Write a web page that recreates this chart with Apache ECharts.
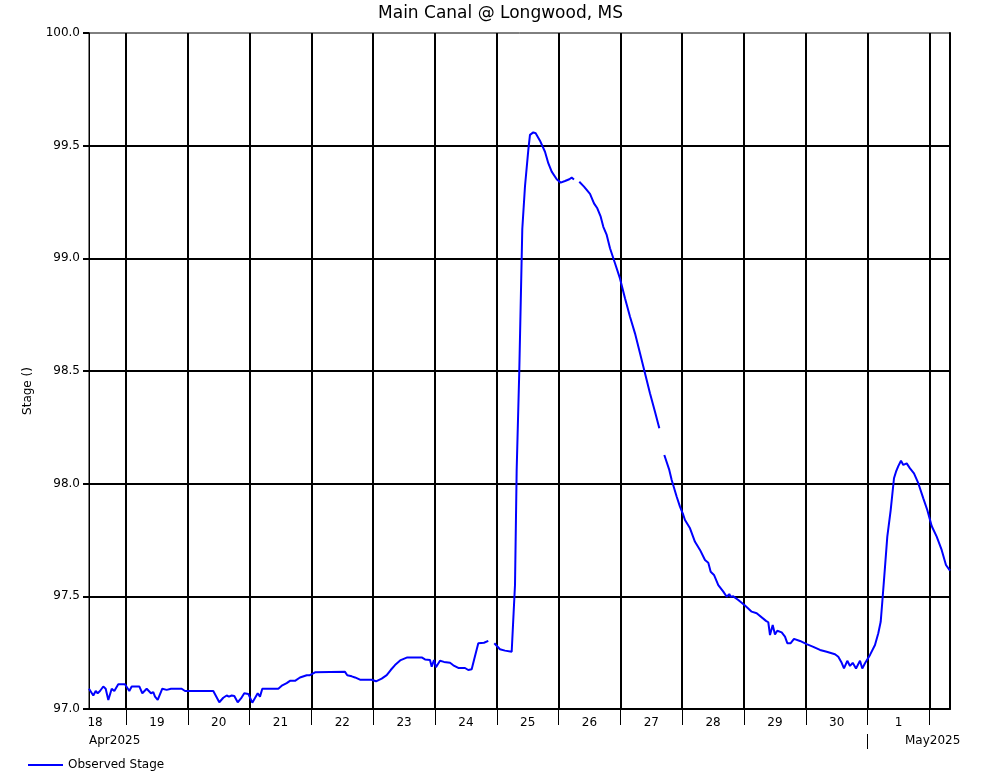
<!DOCTYPE html>
<html>
<head>
<meta charset="utf-8">
<script src="https://cdn.jsdelivr.net/npm/echarts@6/dist/echarts.min.js"></script>
<style>html,body{margin:0;padding:0;background:#fff;}#c{width:1001px;height:780px;}</style>
</head>
<body>
<div id="c"></div>
<script>
// ---- data ----
const titleText = 'Main Canal @ Longwood, MS';
const seriesName = 'Observed Stage';
const yAxisName = 'Stage ()';
const axisStart = '2025-04-18 09:38';
const axisEnd = '2025-05-02 08:00';
const yTicks = [97.0, 97.5, 98.0, 98.5, 99.0, 99.5, 100.0];
const midnights = ['2025-04-19','2025-04-20','2025-04-21','2025-04-22','2025-04-23','2025-04-24','2025-04-25','2025-04-26','2025-04-27','2025-04-28','2025-04-29','2025-04-30','2025-05-01','2025-05-02'];
const dayLabelTimes = ['2025-04-18 12:00','2025-04-19 12:00','2025-04-20 12:00','2025-04-21 12:00','2025-04-22 12:00','2025-04-23 12:00','2025-04-24 12:00','2025-04-25 12:00','2025-04-26 12:00','2025-04-27 12:00','2025-04-28 12:00','2025-04-29 12:00','2025-04-30 12:00','2025-05-01 12:00'];
const dayLabels = ['18','19','20','21','22','23','24','25','26','27','28','29','30','1'];
const monthTicks = ['2025-05-01'];
const monthLabelTimes = ['2025-04-18 09:38','2025-05-01 14:30'];
const monthLabels = ['Apr2025','May2025'];

const times = [
'2025-04-18 09:38','2025-04-18 11:18','2025-04-18 12:14','2025-04-18 13:00','2025-04-18 13:54','2025-04-18 15:11','2025-04-18 16:07','2025-04-18 17:08','2025-04-18 18:27','2025-04-18 19:28','2025-04-18 21:00','2025-04-18 23:36',
'2025-04-19 01:17','2025-04-19 02:13','2025-04-19 05:10','2025-04-19 06:20','2025-04-19 08:02','2025-04-19 09:42','2025-04-19 10:36','2025-04-19 11:16','2025-04-19 12:19','2025-04-19 14:06','2025-04-19 15:48','2025-04-19 17:29','2025-04-19 21:38','2025-04-19 22:55',
'2025-04-20 09:54','2025-04-20 12:14','2025-04-20 13:47','2025-04-20 15:06','2025-04-20 16:00','2025-04-20 17:03','2025-04-20 18:04','2025-04-20 19:23','2025-04-20 20:40','2025-04-20 21:56','2025-04-20 23:30',
'2025-04-21 01:03','2025-04-21 03:09','2025-04-21 04:02','2025-04-21 04:56','2025-04-21 11:09','2025-04-21 12:42','2025-04-21 14:24','2025-04-21 15:41','2025-04-21 17:38','2025-04-21 19:34','2025-04-21 22:11','2025-04-21 23:27',
'2025-04-22 01:24','2025-04-22 13:03','2025-04-22 13:56','2025-04-22 15:39','2025-04-22 16:56','2025-04-22 18:52','2025-04-22 23:25',
'2025-04-23 01:05','2025-04-23 03:18','2025-04-23 05:15','2025-04-23 06:48','2025-04-23 08:28','2025-04-23 10:41','2025-04-23 13:15','2025-04-23 18:50','2025-04-23 20:07','2025-04-23 22:04','2025-04-23 22:43','2025-04-23 23:37',
'2025-04-24 00:23','2025-04-24 01:56','2025-04-24 03:30','2025-04-24 05:50','2025-04-24 07:07','2025-04-24 09:03','2025-04-24 11:39','2025-04-24 12:56','2025-04-24 14:15','2025-04-24 15:09','2025-04-24 16:49','2025-04-24 19:02','2025-04-24 20:42','2025-04-24 21:30','2025-04-24 23:02',
'2025-04-25 01:14','2025-04-25 03:11','2025-04-25 05:47','2025-04-25 06:17','2025-04-25 07:04','2025-04-25 07:43','2025-04-25 08:44','2025-04-25 09:54','2025-04-25 10:57','2025-04-25 12:14','2025-04-25 12:53','2025-04-25 14:10','2025-04-25 15:06','2025-04-25 16:46','2025-04-25 18:43','2025-04-25 20:00','2025-04-25 21:19','2025-04-25 23:16',
'2025-04-26 00:49','2025-04-26 02:29','2025-04-26 04:09','2025-04-26 05:05','2025-04-26 05:59','2025-04-26 06:40','2025-04-26 08:02','2025-04-26 09:52','2025-04-26 12:12','2025-04-26 13:45','2025-04-26 15:02','2025-04-26 16:21','2025-04-26 17:22','2025-04-26 18:41','2025-04-26 19:58','2025-04-26 21:54','2025-04-26 23:50',
'2025-04-27 01:47','2025-04-27 03:44','2025-04-27 05:40','2025-04-27 07:37','2025-04-27 09:33','2025-04-27 11:29','2025-04-27 13:26','2025-04-27 15:07','2025-04-27 16:00','2025-04-27 17:03','2025-04-27 18:59','2025-04-27 19:55','2025-04-27 21:52','2025-04-27 23:08',
'2025-04-28 00:26','2025-04-28 01:05','2025-04-28 03:02','2025-04-28 04:58','2025-04-28 06:55','2025-04-28 08:51','2025-04-28 10:08','2025-04-28 11:04','2025-04-28 12:21','2025-04-28 14:01','2025-04-28 15:58','2025-04-28 17:17','2025-04-28 18:17','2025-04-28 18:50','2025-04-28 19:51','2025-04-28 21:47',
'2025-04-29 00:23','2025-04-29 02:59','2025-04-29 04:56','2025-04-29 08:32','2025-04-29 09:26','2025-04-29 10:06','2025-04-29 11:09','2025-04-29 12:02','2025-04-29 12:56','2025-04-29 14:38','2025-04-29 15:55','2025-04-29 16:49','2025-04-29 18:08','2025-04-29 19:25','2025-04-29 21:44',
'2025-04-30 00:21','2025-04-30 02:55','2025-04-30 05:31','2025-04-30 08:07','2025-04-30 11:20','2025-04-30 12:37','2025-04-30 13:56','2025-04-30 14:50','2025-04-30 16:07','2025-04-30 17:10','2025-04-30 18:13','2025-04-30 19:30','2025-04-30 20:00','2025-04-30 21:03','2025-04-30 21:56','2025-04-30 22:59',
'2025-05-01 00:56','2025-05-01 02:52','2025-05-01 04:09','2025-05-01 05:05','2025-05-01 05:52','2025-05-01 06:46','2025-05-01 07:39','2025-05-01 08:58','2025-05-01 10:15','2025-05-01 11:02','2025-05-01 11:55','2025-05-01 12:58','2025-05-01 13:52','2025-05-01 15:11','2025-05-01 16:28','2025-05-01 18:01','2025-05-01 19:41','2025-05-01 21:38','2025-05-01 23:11',
'2025-05-02 00:53','2025-05-02 02:50','2025-05-02 04:46','2025-05-02 06:26','2025-05-02 08:00'
];
const stage = [
97.09,97.06,97.08,97.07,97.08,97.10,97.09,97.04,97.09,97.08,97.11,97.11,
97.08,97.10,97.10,97.07,97.09,97.07,97.075,97.055,97.04,97.09,97.085,97.09,97.09,97.08,
97.08,97.03,97.05,97.06,97.055,97.06,97.058,97.03,97.047,97.07,97.067,
97.028,97.07,97.055,97.09,97.09,97.105,97.115,97.125,97.125,97.14,97.15,97.15,
97.163,97.165,97.15,97.145,97.14,97.13,97.13,
97.123,97.135,97.15,97.173,97.195,97.217,97.229,97.229,97.22,97.217,97.188,97.217,
97.185,97.214,97.209,97.205,97.194,97.182,97.182,97.173,97.176,97.217,97.292,97.294,97.302,null,97.292,
97.265,97.259,97.254,97.25,97.55,98.06,98.50,99.13,99.32,99.48,99.548,99.559,99.555,99.522,99.473,99.422,99.385,99.351,
99.336,99.343,99.351,99.358,99.35,null,99.340,99.318,99.286,99.244,99.222,99.185,99.14,99.104,99.045,98.978,98.911,
98.823,98.741,98.667,98.579,98.49,98.401,98.319,98.246,null,98.127,98.061,98.016,97.942,97.898,
97.861,97.839,97.802,97.742,97.706,97.661,97.649,97.609,97.595,97.55,97.521,97.498,97.51,97.498,97.50,97.484,
97.459,97.432,97.425,97.391,97.385,97.328,97.373,97.331,97.347,97.34,97.321,97.292,97.292,97.311,97.302,
97.288,97.276,97.262,97.254,97.243,97.232,97.205,97.18,97.214,97.191,97.205,97.18,97.176,97.214,97.18,97.203,
97.24,97.284,97.336,97.387,97.498,97.632,97.765,97.883,98.024,98.053,98.078,98.102,98.083,98.090,98.068,98.046,98.002,97.935,97.883,
97.812,97.765,97.706,97.639,97.614
];

// ---- helpers ----
function toMs(s) {
  const parts = s.split(' ');
  const d = parts[0].split('-').map(Number);
  const t = (parts[1] || '00:00').split(':').map(Number);
  return Date.UTC(d[0], d[1] - 1, d[2], t[0], t[1]);
}
const xMin = toMs(axisStart), xMax = toMs(axisEnd);
const dayLabelMs = dayLabelTimes.map(toMs);
const monthLabelMs = monthLabelTimes.map(toMs);
const seriesData = times.map((t, i) => [toMs(t), stage[i]]);
const FONT = 'DejaVu Sans';

const chart = echarts.init(document.getElementById('c'), null, {renderer: 'canvas'});
chart.setOption({
  animation: false,
  backgroundColor: '#fff',
  textStyle: {fontFamily: FONT, color: '#000'},
  title: {
    text: titleText, left: 'center', top: 0, padding: [5, 5, 5, 5],
    textStyle: {fontFamily: FONT, fontSize: 17, fontWeight: 'normal', color: '#000'}
  },
  legend: {
    left: 23, top: 754, icon: 'rect', itemWidth: 35, itemHeight: 2,
    textStyle: {fontFamily: FONT, fontSize: 12, color: '#000'},
    data: [seriesName]
  },
  grid: {left: 89, right: 51, top: 33, bottom: 71, show: true, borderColor: '#000', borderWidth: 1, containLabel: false},
  xAxis: [{
    type: 'value', min: xMin, max: xMax, position: 'bottom',
    axisLine: {show: true, onZero: false, lineStyle: {color: '#000', width: 2}},
    axisTick: {show: true, customValues: midnights.map(toMs), length: 16, lineStyle: {color: '#000', width: 1}},
    axisLabel: {
      customValues: dayLabelMs, margin: 8, fontSize: 12, color: '#000', fontFamily: FONT,
      formatter: function (v) { const i = dayLabelMs.indexOf(v); return i >= 0 ? dayLabels[i] : ''; }
    },
    splitLine: {show: true, lineStyle: {color: '#000', width: 2}}
  }, {
    type: 'value', min: xMin, max: xMax, position: 'bottom', offset: 25,
    axisLine: {show: false, onZero: false},
    axisTick: {show: true, customValues: monthTicks.map(toMs), length: 15, lineStyle: {color: '#000', width: 1}},
    axisLabel: {
      customValues: monthLabelMs, margin: 1, fontSize: 12, color: '#000', fontFamily: FONT, align: 'left',
      showMinLabel: true, showMaxLabel: true,
      formatter: function (v) { const i = monthLabelMs.indexOf(v); return i >= 0 ? monthLabels[i] : ''; }
    },
    splitLine: {show: false}
  }],
  yAxis: [{
    type: 'value', min: yTicks[0], max: yTicks[yTicks.length - 1], interval: 0.5,
    name: yAxisName, nameLocation: 'middle', nameGap: 55,
    nameTextStyle: {fontFamily: FONT, fontSize: 12, color: '#000', padding: [0, 40, 0, 0]},
    axisLine: {show: true, onZero: false, lineStyle: {color: '#000', width: 1}},
    axisTick: {show: true, length: 6, lineStyle: {color: '#000', width: 2}},
    axisLabel: {margin: 9, fontSize: 12, color: '#000', fontFamily: FONT, formatter: v => v.toFixed(1)},
    splitLine: {show: true, showMaxLine: false, lineStyle: {color: '#000', width: 2}}
  }, {
    type: 'value', min: yTicks[0], max: yTicks[yTicks.length - 1], position: 'right',
    axisLine: {show: true, onZero: false, lineStyle: {color: '#000', width: 2}},
    axisTick: {show: false}, axisLabel: {show: false}, splitLine: {show: false}
  }],
  series: [{
    name: seriesName, type: 'line', xAxisIndex: 0, yAxisIndex: 0,
    data: seriesData, symbol: 'none', showSymbol: false, connectNulls: false,
    lineStyle: {color: '#0000ff', width: 2}, itemStyle: {color: '#0000ff'}, z: 5
  }]
});
</script>
</body>
</html>
